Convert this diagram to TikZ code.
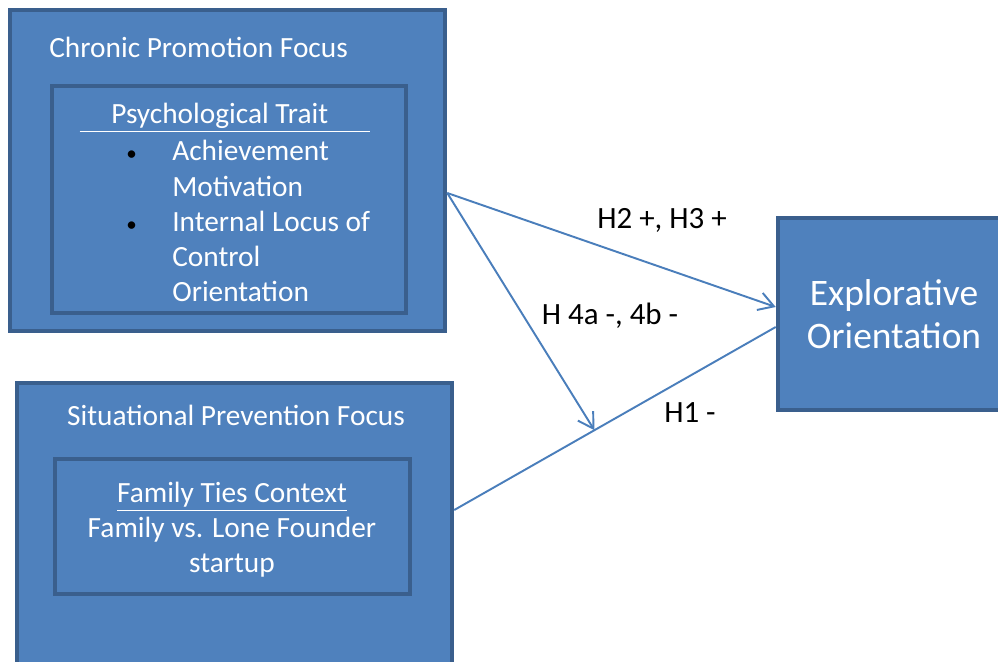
\documentclass[tikz,border=0pt]{standalone}
\usepackage{fontspec}
\setmainfont{Carlito}
\usepackage{tikz}
\usetikzlibrary{arrows.meta, positioning, calc}
\usepackage{xcolor}
\definecolor{boxfill}{HTML}{4F81BD}
\definecolor{boxline}{HTML}{3A5F8D}
\definecolor{linkblue}{HTML}{4A7EBB}

\begin{document}
\begin{tikzpicture}[
    x=0.02cm, y=-0.02cm,
    panel/.style={rectangle, draw=boxline, line width=2.6pt, fill=boxfill, inner sep=0pt},
    txt/.style={text=white, font=\fontsize{16.7}{20}\selectfont, inner sep=0pt},
    arrow/.style={-{Straight Barb[length=3mm, width=3.6mm]}, draw=linkblue, line width=1.1pt},
    link/.style={draw=linkblue, line width=1.1pt},
    hyp/.style={font=\fontsize{17.6}{20}\selectfont, inner sep=0pt}
]
\clip (0,0) rectangle (998,662);

% === Chronic promotion focus (top left) ===
\node[panel, minimum width=8.7cm, minimum height=6.42cm] (chronic) at (227.5,170.5) {};
\node[txt, anchor=west] (chronictitle) at (49,47) {Chronic Promotion Focus};
\node[panel, minimum width=7.08cm, minimum height=4.54cm] (trait) at (229,199.5) {};
\node[txt] (traittitle) at (225,118) {\underline{\hspace{18pt}Psychological Trait\hspace{24pt}}};
\node[txt, anchor=north west] (traititems) at (126,136) {%
  \begin{tabular}{@{}l@{}l@{}}
  \makebox[0.92cm][l]{\color{black}\fontsize{12}{12}\selectfont\textbullet} & Achievement\\
   & Motivation\\
  \makebox[0.92cm][l]{\color{black}\fontsize{12}{12}\selectfont\textbullet} & Internal Locus of\\
   & Control\\
   & Orientation
  \end{tabular}};

% === Situational prevention focus (bottom left) ===
\node[panel, minimum width=8.7cm, minimum height=6.14cm] (situ) at (234.5,536.5) {};
\node[txt] (situtitle) at (236,415) {Situational Prevention Focus};
\node[panel, minimum width=7.1cm, minimum height=2.7cm] (family) at (232.5,526.5) {};
\node[txt, align=center] (familytext) at (232,530) {\underline{Family Ties Context}\\Family vs. Lone Founder\\startup};

% === Outcome (right) ===
\node[panel, minimum width=4.64cm, minimum height=3.84cm, text=white, align=center,
      font=\fontsize{21.3}{24.4}\selectfont] (explo) at (894,314) {Explorative\\Orientation};

% Links
\coordinate (h1start) at ([yshift=0.53cm]situ.east);
\coordinate (h1end) at ([yshift=-0.26cm]explo.west);
\coordinate (modhit) at ($(h1start)!0.436!(h1end)$);

\draw[link] (h1start) -- (h1end);
\draw[arrow] ([yshift=-0.45cm]chronic.east) -- ([yshift=0.14cm]explo.west);
\draw[arrow] ([yshift=-0.45cm]chronic.east) -- (modhit);

% Hypothesis labels
\node[hyp] (h23) at (662,220) {H2 +, H3 +};
\node[hyp] (h4) at (610,316) {H 4a -, 4b -};
\node[hyp] (h1) at (690,413) {H1 -};

\end{tikzpicture}
\end{document}
